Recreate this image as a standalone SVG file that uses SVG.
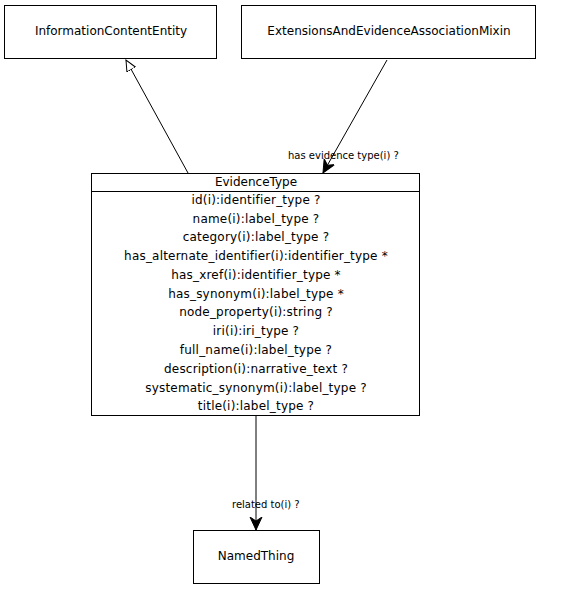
<svg xmlns="http://www.w3.org/2000/svg" width="569" height="590" viewBox="0 0 569 590">
  <style>
    .box { fill: #ffffff; stroke: #000000; stroke-width: 1; }
    .name { font-family: "DejaVu Sans", sans-serif; font-size: 12px; fill: #000; text-anchor: middle; }
    .attr { font-family: "DejaVu Sans", sans-serif; font-size: 12px; fill: #000; text-anchor: middle; letter-spacing: 0.2px; }
    .lbl { font-family: "DejaVu Sans", sans-serif; font-size: 10px; fill: #000; }
    .edge { stroke: #000; stroke-width: 1; fill: none; }
  </style>
  <defs>
    <marker id="hollow" viewBox="0 0 12 12" refX="11" refY="6" markerWidth="12" markerHeight="12" markerUnits="userSpaceOnUse" orient="auto">
      <path d="M0,1 L11,6 L0,11 Z" fill="#fff" stroke="#000" stroke-width="1"/>
    </marker>
    <marker id="arrow" viewBox="0 0 14 14" refX="13" refY="7" markerWidth="14" markerHeight="14" markerUnits="userSpaceOnUse" orient="auto">
      <path d="M0,1 L13,7 L0,13 L4,7 Z" fill="#000" stroke="#000" stroke-width="1"/>
    </marker>
  </defs>
  <rect width="569" height="590" fill="#fff"/>

  <g id="connectors">
    <line class="edge" x1="188" y1="173" x2="126" y2="60" marker-end="url(#hollow)"/>
    <line class="edge" x1="387" y1="60" x2="323" y2="173" marker-end="url(#arrow)"/>
    <text class="lbl" x="288" y="159">has evidence type(i) ?</text>
    <line class="edge" x1="256" y1="416" x2="256" y2="530" marker-end="url(#arrow)"/>
    <text class="lbl" x="232" y="508">related to(i) ?</text>
  </g>

  <g id="InformationContentEntity">
    <rect class="box" x="4.5" y="5.5" width="212" height="53"/>
    <text class="name" x="111" y="35">InformationContentEntity</text>
  </g>

  <g id="ExtensionsAndEvidenceAssociationMixin">
    <rect class="box" x="241.5" y="5.5" width="294" height="53"/>
    <text class="name" x="389" y="35">ExtensionsAndEvidenceAssociationMixin</text>
  </g>

  <g id="EvidenceType">
    <rect class="box" x="91.5" y="173.5" width="328" height="242"/>
    <line class="edge" x1="91.5" y1="191.5" x2="419.5" y2="191.5"/>
    <text class="name" x="256" y="186">EvidenceType</text>
    <text class="attr" x="256" y="204">id(i):identifier_type ?</text>
    <text class="attr" x="256" y="223">name(i):label_type ?</text>
    <text class="attr" x="256" y="241">category(i):label_type ?</text>
    <text class="attr" x="256" y="260">has_alternate_identifier(i):identifier_type *</text>
    <text class="attr" x="256" y="279">has_xref(i):identifier_type *</text>
    <text class="attr" x="256" y="298">has_synonym(i):label_type *</text>
    <text class="attr" x="256" y="316">node_property(i):string ?</text>
    <text class="attr" x="256" y="335">iri(i):iri_type ?</text>
    <text class="attr" x="256" y="354">full_name(i):label_type ?</text>
    <text class="attr" x="256" y="373">description(i):narrative_text ?</text>
    <text class="attr" x="256" y="392">systematic_synonym(i):label_type ?</text>
    <text class="attr" x="256" y="410">title(i):label_type ?</text>
  </g>

  <g id="NamedThing">
    <rect class="box" x="193.5" y="530.5" width="126" height="53"/>
    <text class="name" x="256" y="560">NamedThing</text>
  </g>
</svg>
